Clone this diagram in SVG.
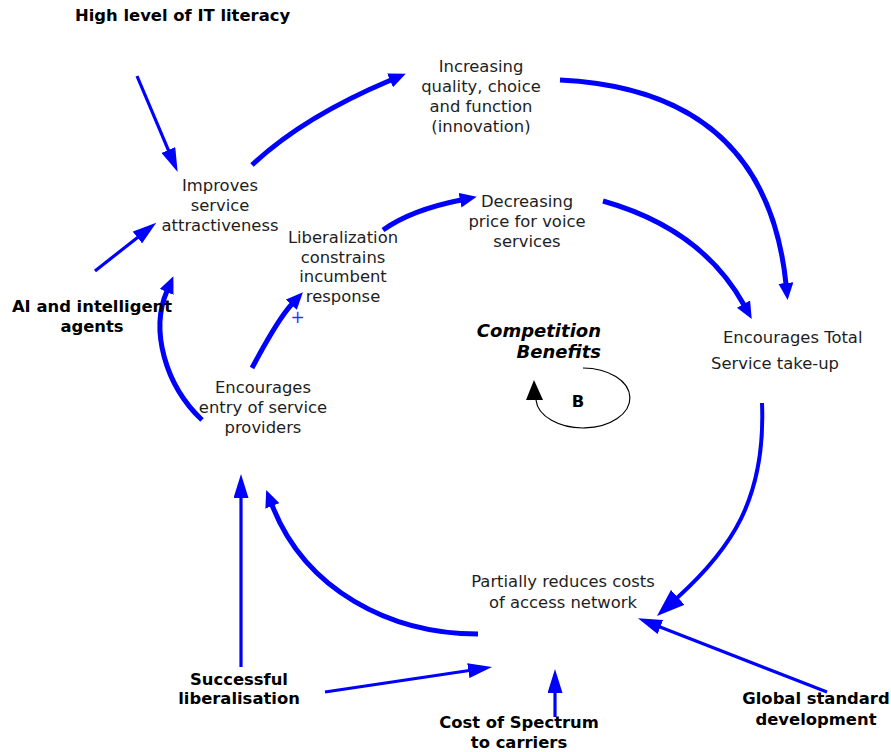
<svg xmlns="http://www.w3.org/2000/svg" width="891" height="752" viewBox="0 0 891 752">
  <style>
    .lbl { font-family: "DejaVu Sans", Verdana, sans-serif; font-size: 16.4px; fill: #1e1e1e; text-anchor: middle; }
    .ext { font-family: "DejaVu Sans", Verdana, sans-serif; font-size: 16.4px; font-weight: bold; fill: #000; text-anchor: middle; }
    .title { font-family: "DejaVu Sans", Verdana, sans-serif; font-size: 18px; font-weight: bold; font-style: italic; fill: #000; text-anchor: end; }
    .link { fill: none; stroke: #0000ff; stroke-width: 5; }
    .link-mid { fill: none; stroke: #0000ff; stroke-width: 4; }
    .input { fill: none; stroke: #0000ff; stroke-width: 3.2; }
    .loop { fill: none; stroke: #000; stroke-width: 1.2; }
  </style>
  <defs>
    <marker id="head" markerUnits="userSpaceOnUse" markerWidth="18" markerHeight="15" refX="1" refY="7.5" orient="auto">
      <path d="M0,0 L17,7.5 L0,15 z" fill="#0000ff"/>
    </marker>
    <marker id="head-in" markerUnits="userSpaceOnUse" markerWidth="25" markerHeight="15" refX="1" refY="7.5" orient="auto">
      <path d="M0,0 L24,7.5 L0,15 z" fill="#0000ff"/>
    </marker>
    <marker id="head-lg" markerUnits="userSpaceOnUse" markerWidth="29" markerHeight="20" refX="1" refY="10" orient="auto">
      <path d="M0,0 L28,10 L0,20 z" fill="#0000ff"/>
    </marker>
  </defs>

  <!-- causal links -->
  <g id="connectors">
    <!-- attractiveness -> innovation -->
    <path class="link" d="M252,165 Q303,117 391,80" marker-end="url(#head)"/>
    <!-- innovation -> total take-up -->
    <path class="link" d="M560,80 Q766,90 786,284" marker-end="url(#head)"/>
    <!-- voice price -> total take-up -->
    <path class="link" d="M603,201 Q702,229 744,305" marker-end="url(#head)"/>
    <!-- liberalization -> voice price -->
    <path class="link" d="M383,230 Q411,210 461,200" marker-end="url(#head)"/>
    <!-- new entrants -> liberalization -->
    <path class="link" d="M252,368 Q278,319 292,304" marker-end="url(#head)"/>
    <!-- new entrants -> attractiveness -->
    <path class="link" d="M202,420 C165,385 150,330 167,291" marker-end="url(#head)"/>
    <!-- access costs -> new entrants -->
    <path class="link" d="M478,634 C390,634 305,590 272,505" marker-end="url(#head)"/>
    <!-- total take-up -> access costs -->
    <path class="link-mid" d="M762,403 C766,500 730,550 677,598" marker-end="url(#head-lg)"/>

    <!-- external inputs -->
    <path class="input" d="M137,76 L168.7,150.9" marker-end="url(#head-in)"/>
    <path class="input" d="M95,271 L138.2,236.9" marker-end="url(#head-in)"/>
    <path class="input" d="M241,667 L241,497" marker-end="url(#head-in)"/>
    <path class="input" d="M325,692 L469.3,670.5" marker-end="url(#head-in)"/>
    <path class="input" d="M555,717 L555,692" marker-end="url(#head-in)"/>
    <path class="input" d="M827,692 L659.4,626.7" marker-end="url(#head-in)"/>

    <!-- polarity -->
    <text x="297.5" y="323" style="font-family:'DejaVu Sans',sans-serif;font-size:17px;fill:#3030ff;text-anchor:middle">+</text>
  </g>

  <!-- loop marker -->
  <g id="loop-b">
    <path class="loop" d="M583,368 A47,30 0 1 1 536,400"/>
    <polygon points="526,400 543,400 534,380" fill="#000"/>
    <text class="ext" x="578" y="407">B</text>
    <text class="title" x="601" y="337">Competition</text>
    <text class="title" x="601" y="358">Benefits</text>
  </g>

  <!-- loop variables -->
  <g id="innovation">
    <text class="lbl" x="481" y="72">Increasing</text>
    <text class="lbl" x="481" y="92">quality, choice</text>
    <text class="lbl" x="481" y="112">and function</text>
    <text class="lbl" x="481" y="132">(innovation)</text>
  </g>
  <g id="attractiveness">
    <text class="lbl" x="220" y="191">Improves</text>
    <text class="lbl" x="220" y="211">service</text>
    <text class="lbl" x="220" y="231">attractiveness</text>
  </g>
  <g id="liberalization">
    <text class="lbl" x="343" y="243">Liberalization</text>
    <text class="lbl" x="343" y="263">constrains</text>
    <text class="lbl" x="343" y="282">incumbent</text>
    <text class="lbl" x="343" y="302">response</text>
  </g>
  <g id="voice-price">
    <text class="lbl" x="527" y="207">Decreasing</text>
    <text class="lbl" x="527" y="227">price for voice</text>
    <text class="lbl" x="527" y="247">services</text>
  </g>
  <g id="take-up">
    <text class="lbl" x="723" y="343" style="text-anchor:start">Encourages Total</text>
    <text class="lbl" x="711" y="369" style="text-anchor:start">Service take-up</text>
  </g>
  <g id="new-entrants">
    <text class="lbl" x="263" y="393">Encourages</text>
    <text class="lbl" x="263" y="413">entry of service</text>
    <text class="lbl" x="263" y="433">providers</text>
  </g>
  <g id="access-costs">
    <text class="lbl" x="563" y="587">Partially reduces costs</text>
    <text class="lbl" x="563" y="608">of access network</text>
  </g>

  <!-- external drivers -->
  <g id="it-literacy">
    <text class="ext" x="75" y="21" style="text-anchor:start">High level of IT literacy</text>
  </g>
  <g id="ai-agents">
    <text class="ext" x="92" y="312">AI and intelligent</text>
    <text class="ext" x="92" y="332">agents</text>
  </g>
  <g id="liberalisation">
    <text class="ext" x="239" y="685">Successful</text>
    <text class="ext" x="239" y="704">liberalisation</text>
  </g>
  <g id="spectrum-cost">
    <text class="ext" x="519" y="728">Cost of Spectrum</text>
    <text class="ext" x="519" y="748">to carriers</text>
  </g>
  <g id="global-standard">
    <text class="ext" x="816" y="704">Global standard</text>
    <text class="ext" x="816" y="725">development</text>
  </g>
</svg>
